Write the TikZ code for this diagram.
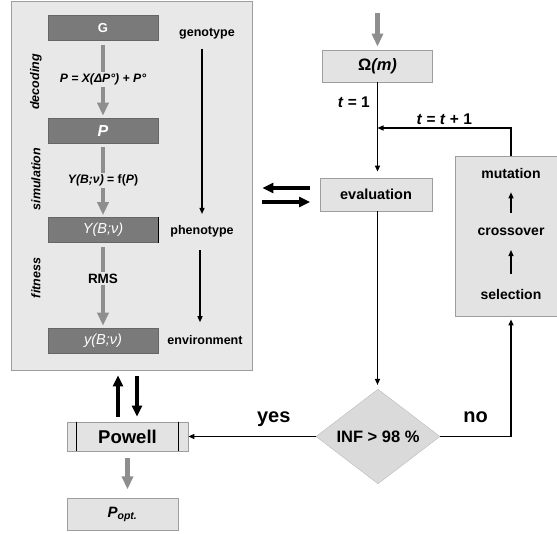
\documentclass[tikz,border=0pt]{standalone}
\usepackage{fontspec}
\setmainfont{Liberation Sans}
\usepackage{tikz}
\usetikzlibrary{arrows.meta,positioning,shapes.geometric,calc}
\definecolor{panelgray}{HTML}{E8E8E8}
\definecolor{boxgray}{HTML}{E3E3E3}
\definecolor{edgegray}{HTML}{9E9E9E}
\definecolor{genegray}{HTML}{7A7A7A}
\definecolor{flowgray}{HTML}{8E8E8E}
\tikzset{
  panel/.style={
    draw=edgegray,
    fill=panelgray,
    line width=0.8pt,
    inner sep=0pt
  },
  darkbox/.style={
    draw=black!60,
    fill=genegray,
    text=white,
    line width=0.6pt,
    minimum width=110pt,
    minimum height=25pt,
    inner sep=0pt,
    font=\fontsize{13}{15}\selectfont\bfseries
  },
  lightbox/.style={
    draw=edgegray,
    fill=boxgray,
    line width=0.8pt,
    minimum width=110pt,
    minimum height=32pt,
    inner sep=0pt,
    font=\fontsize{14.5}{17}\selectfont\bfseries
  },
  decision/.style={
    diamond,
    draw=edgegray!70,
    fill=boxgray!96!black,
    minimum width=124pt,
    minimum height=80pt,
    inner sep=0pt,
    font=\fontsize{16.5}{19}\selectfont\bfseries
  },
  eqtext/.style={
    fill=panelgray,
    inner sep=2pt,
    font=\fontsize{12.2}{14}\selectfont\bfseries
  },
  sidetag/.style={
    rotate=90,
    inner sep=1pt,
    font=\fontsize{12.5}{14}\selectfont\bfseries\itshape
  },
  tag/.style={
    inner sep=2pt,
    font=\fontsize{12.5}{14}\selectfont\bfseries
  },
  optext/.style={
    inner sep=0pt,
    font=\fontsize{14}{16}\selectfont\bfseries
  },
  tflag/.style={
    inner sep=2pt,
    font=\fontsize{15.5}{18}\selectfont\bfseries
  },
  answer/.style={
    inner sep=2pt,
    text depth=0pt,
    font=\fontsize{20}{22}\selectfont\bfseries
  },
  grayflow/.style={
    -{Triangle[length=13pt,width=11pt]},
    line width=4.5pt,
    draw=flowgray,
    shorten <=4pt,
    shorten >=2pt
  },
  ctrlflow/.style={
    -{Triangle[length=6pt,width=5pt]},
    line width=1.3pt,
    draw=black
  },
  heavyflow/.style={
    -{Triangle[length=11pt,width=10pt]},
    line width=3.5pt,
    draw=black
  }
}

\begin{document}
\begin{tikzpicture}[x=1pt, y=-1pt]
    \useasboundingbox (0,0) rectangle (557,534);
    % model panel
    \node[panel, minimum width=241pt, minimum height=369pt] (sim) at (131.5,185.5) {};
    \node[darkbox] (gbox) at (103,28) {G};
    \node[darkbox, font=\fontsize{16}{18}\selectfont\bfseries\itshape] (pbox) at (103,130.5) {P};
    \node[darkbox, font=\fontsize{14.5}{17}\selectfont\itshape] (ybox) at (103,230) {Y(B;ν)};
    \node[darkbox, font=\fontsize{14.5}{17}\selectfont\itshape] (yobs) at (103,340.5) {y(B;ν)};
    \draw[line width=1.5pt] (ybox.north east) -- (ybox.south east);
    \draw[grayflow] (gbox) -- node[eqtext] {\itshape P = X(ΔP°) + P°} (pbox);
    \draw[grayflow] (pbox) -- node[eqtext] {{\itshape Y(B;ν)} = f({\itshape P})} (ybox);
    \draw[grayflow] (ybox) -- node[eqtext, pos=0.42, font=\fontsize{13.5}{15}\selectfont\bfseries] {RMS} (yobs);
    \node[sidetag] (decode) at (36,82) {decoding};
    \node[sidetag] (simul) at (36,179) {simulation};
    \node[sidetag] (fit) at (36,278) {fitness};
    \node[tag] (genotag) at (207,34) {genotype};
    \node[tag] (phenotag) at (202,231) {phenotype};
    \node[tag] (envtag) at (205,340) {environment};
    \draw[ctrlflow, shorten <=7pt, shorten >=9pt] (phenotag.north |- genotag.south) -- (phenotag.north);
    \draw[ctrlflow, shorten <=11pt, shorten >=11pt] ([xshift=-2pt]phenotag.south) -- ([xshift=-2pt]phenotag.south |- envtag.north);
    % genetic loop
    \coordinate (entry) at (377.5,13);
    \node[lightbox, font=\fontsize{16.5}{19}\selectfont\bfseries] (omega) at (377.5,66) {Ω\textit{(m)}};
    \draw[grayflow, shorten <=0pt, shorten >=3pt] (entry) -- (omega);
    \node[lightbox, minimum width=112pt, minimum height=33pt] (eval) at (376,194.5) {evaluation};
    \coordinate (merge) at (377.5,128);
    \draw[ctrlflow, shorten >=6pt] (omega) -- node[tflag, left=5pt, pos=0.21] {\textit{t} = 1} (omega |- eval.north);
    \node[lightbox, minimum width=103pt, minimum height=160pt] (ops) at (506.5,236) {};
    \node[optext] (mutate) at (511,173) {mutation};
    \node[optext] (cross) at (511,232) {crossover};
    \node[optext] (select) at (511,294) {selection};
    \foreach \a/\b in {select/cross,cross/mutate}
      \draw[ctrlflow, line width=1.1pt, shorten <=15pt, shorten >=14pt] (\a) -- (\b);
    \draw[ctrlflow] (ops.north -| mutate) |- node[tflag, above=1pt, pos=0.75] {\textit{t} = \textit{t} + 1} (merge);
    \node[decision] (test) at (378,436.5) {INF > 98 \%};
    \draw[ctrlflow, shorten >=4pt] (omega |- eval.south) -- (omega |- test.north);
    \draw[ctrlflow, shorten >=3pt] (test) -| node[answer, above=11.5pt, pos=0.25] {no} (select.south |- ops.south);
    % local search
    \node[lightbox, minimum width=121pt, minimum height=29pt, font=\fontsize{18.5}{21}\selectfont\bfseries] (powell) at (127.5,436.5) {Powell};
    \foreach \s in {-1,1}
      \draw[line width=1.6pt] ([xshift=\s*51pt]powell.north) -- ([xshift=\s*51pt]powell.south);
    \draw[ctrlflow] (test) -- node[answer, above=11.5pt, pos=0.33] {yes} (powell);
    \draw[heavyflow, shorten <=5pt, shorten >=5pt] ([xshift=-9.5pt]powell.north) -- ([xshift=-9.5pt]powell.north |- sim.south);
    \draw[heavyflow, shorten <=6pt, shorten >=5pt] ([xshift=9.5pt]powell.north |- sim.south) -- ([xshift=9.5pt]powell.north);
    \draw[heavyflow, shorten <=9.5pt, shorten >=10pt] ([yshift=6.5pt]eval.west) -- ([yshift=6.5pt]eval.west -| sim.east);
    \draw[heavyflow, shorten <=10pt, shorten >=9.5pt] ([yshift=-7.5pt]eval.west -| sim.east) -- ([yshift=-7.5pt]eval.west);
    \node[lightbox, below=47pt of powell, xshift=-5pt, minimum width=111pt, minimum height=32pt, font=\fontsize{15}{17}\selectfont\bfseries\itshape] (popt) {P\textsubscript{opt.}};
    \draw[grayflow, shorten <=7pt, shorten >=9pt] (powell) -- (powell |- popt.north);
\end{tikzpicture}
\end{document}
